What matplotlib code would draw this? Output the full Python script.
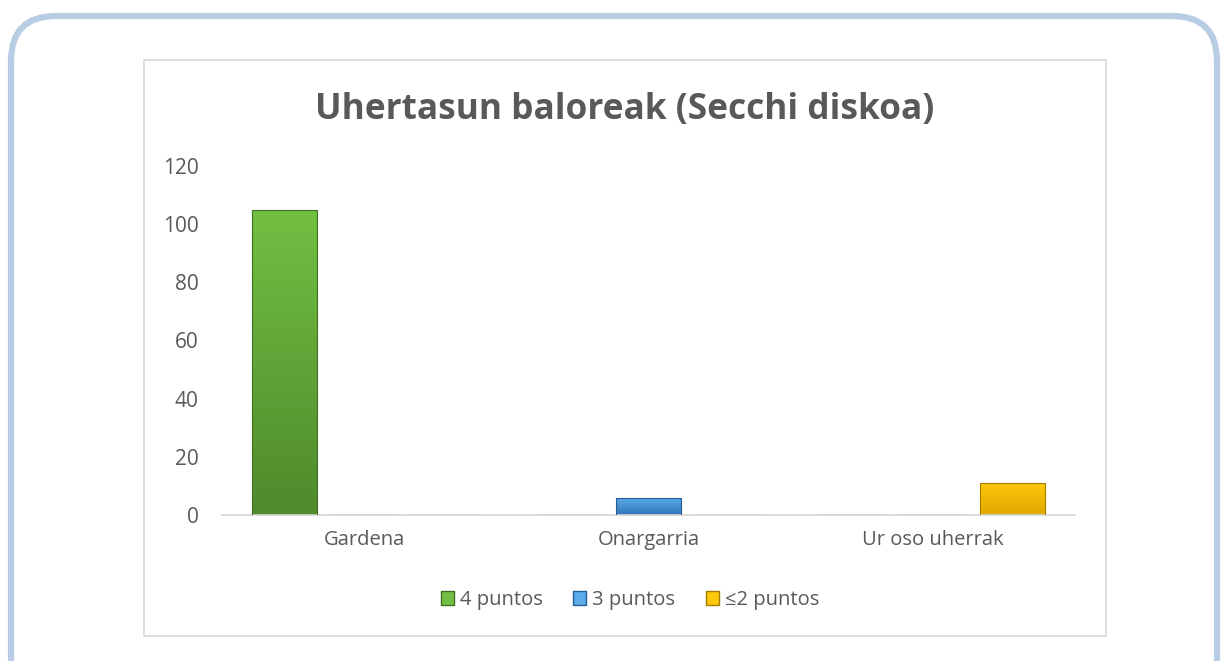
import numpy as np
import matplotlib.pyplot as plt
import matplotlib.transforms as mtransforms
from matplotlib.patches import FancyBboxPatch, Rectangle, Patch
from matplotlib.colors import LinearSegmentedColormap

plt.rcParams['font.family'] = ['Open Sans', 'DejaVu Sans']

categories = ['Gardena', 'Onargarria', 'Ur oso uherrak']
series = ['4 puntos', '3 puntos', '≤2 puntos']
values = [[105, 0, 0],
          [0, 6, 0],
          [0, 0, 11]]
top_colors = ['#72c043', '#5dabea', '#ffc80a']
bot_colors = ['#4f8a2c', '#2f75b5', '#e0a800']
edge_colors = ['#3f6e22', '#245d92', '#a67c00']

W, H = 1225, 661
fig = plt.figure(figsize=(W / 100, H / 100), dpi=100)
px = mtransforms.Affine2D().scale(1 / W, 1 / H) + fig.transFigure

# outer rounded frame and inner chart box (pixel coords, y up)
fig.patches.append(FancyBboxPatch((11, -60), W - 19, H - 16 + 60,
                                  boxstyle='round,pad=0,rounding_size=45',
                                  transform=px, fill=False,
                                  edgecolor='#b8cce4', linewidth=4.5))
fig.patches.append(Rectangle((144, H - 636), 1106 - 144, 636 - 60,
                             transform=px, fill=False,
                             edgecolor='#d9d9d9', linewidth=1.3))

ax = fig.add_axes([222 / W, 1 - 515 / H, (1075 - 222) / W, (515 - 166) / H])

x = np.arange(len(categories))
width = 0.226
offsets = [-0.28, 0, 0.28]
grad = np.linspace(0, 1, 256).reshape(-1, 1)
for i, s in enumerate(series):
    bars = ax.bar(x + offsets[i], values[i], width, color='none', edgecolor=edge_colors[i],
                  linewidth=0.8, label=s, zorder=3)
    cmap = LinearSegmentedColormap.from_list('g%d' % i, [bot_colors[i], top_colors[i]])
    for b in bars:
        if b.get_height() <= 0:
            continue
        bx, bw, bh = b.get_x(), b.get_width(), b.get_height()
        im = ax.imshow(grad, cmap=cmap, origin='lower', aspect='auto',
                       extent=[bx, bx + bw, 0, bh], zorder=2)
        im.set_clip_path(b)

ax.set_xlim(-0.5, 2.5)
ax.set_ylim(0, 120)
ax.set_xticks(x)
ax.set_xticklabels(categories)
ax.set_yticks(range(0, 121, 20))
ax.tick_params(axis='x', length=0, labelsize=14.5, labelcolor='#595959', pad=11)
ax.tick_params(axis='y', length=0, labelsize=15, labelcolor='#595959', pad=17)
for sp in ['top', 'right', 'left']:
    ax.spines[sp].set_visible(False)
ax.spines['bottom'].set_color('#d9d9d9')
ax.spines['bottom'].set_linewidth(1.3)

fig.text(625 / W, 1 - 110 / H, 'Uhertasun baloreak (Secchi diskoa)', ha='center', va='center',
         fontsize=25.4, fontweight='bold', color='#595959')

handles = [Patch(facecolor=top_colors[i], edgecolor=edge_colors[i]) for i in range(3)]
fig.legend(handles, series, loc='center', bbox_to_anchor=(630 / W, 1 - 600 / H), ncol=3,
           frameon=False, fontsize=14.5, labelcolor='#595959', handlelength=0.65, handleheight=0.65,
           handletextpad=0.3, columnspacing=1.5)

fig.savefig('out.png', dpi=100)
